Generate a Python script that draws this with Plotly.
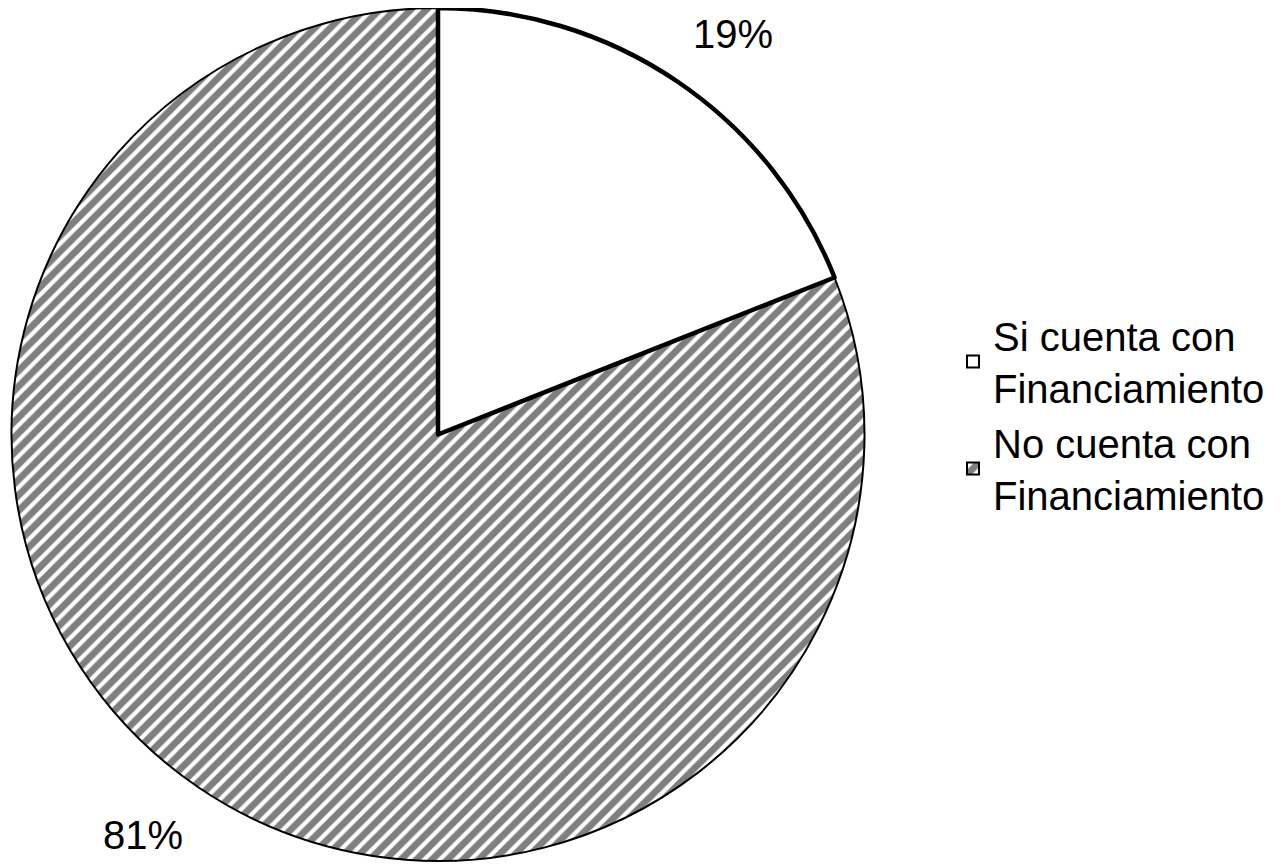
import math
import plotly.graph_objects as go

labels = ["No cuenta con<br>Financiamiento", "Si cuenta con<br>Financiamiento"]
values = [81, 19]
pct_text = ["81%", "19%"]
fills = ["white", "white"]
line_widths = [2, 4.5]
patterns = ["/", ""]

W, H = 1288, 865
OFF = 8  # page body margin: the figure is drawn 8px right/down in the window
cx, cy, R = 438, 434.5, 426.5  # wanted on-screen centre and radius
start_angle = 360 * values[1] / sum(values)  # white slice starts at 12 o'clock


def px_to_paper(x, y):
    return (x - OFF) / W, 1 - (y - OFF) / H


x0, y1 = px_to_paper(cx - R, cy - R)
x1, y0 = px_to_paper(cx + R, cy + R)

fig = go.Figure(go.Pie(
    labels=labels,
    values=values,
    sort=False,
    direction="counterclockwise",
    rotation=start_angle,
    textinfo="none",
    hoverinfo="label+percent",
    marker=dict(
        colors=fills,
        line=dict(color="black", width=line_widths),
        pattern=dict(shape=patterns, fgcolor="black", bgcolor="white",
                     size=11, solidity=0.62, fillmode="overlay"),
    ),
    domain=dict(x=[max(x0, 0), min(x1, 1)], y=[max(y0, 0), min(y1, 1)]),
))

# percentage labels placed outside each slice near its mid angle (clockwise from 12 o'clock)
total = sum(values)
a = start_angle
for v, t in zip(values, pct_text):
    span = v / total * 360
    mid = a + span / 2 + 2.2
    a += span
    rr = R * 1.166
    x = cx + rr * math.sin(math.radians(mid))
    y = cy - rr * math.cos(math.radians(mid))
    px, py = px_to_paper(x, y)
    fig.add_annotation(x=px, y=py, xref="paper", yref="paper",
                       xanchor="center", yanchor="middle",
                       text=t, showarrow=False,
                       font=dict(family="Arial, Liberation Sans", size=40, color="black"))

fig.update_layout(
    width=W, height=H,
    margin=dict(l=0, r=0, t=0, b=0),
    paper_bgcolor="white", plot_bgcolor="white",
    font=dict(family="Arial, Liberation Sans", size=40, color="black"),
    legend=dict(x=945 / W, y=1 - 407 / H, xanchor="left", yanchor="middle",
                traceorder="reversed", font=dict(size=40), itemsizing="constant",
                tracegroupgap=0),
    showlegend=True,
)

fig.write_html("out.html")
